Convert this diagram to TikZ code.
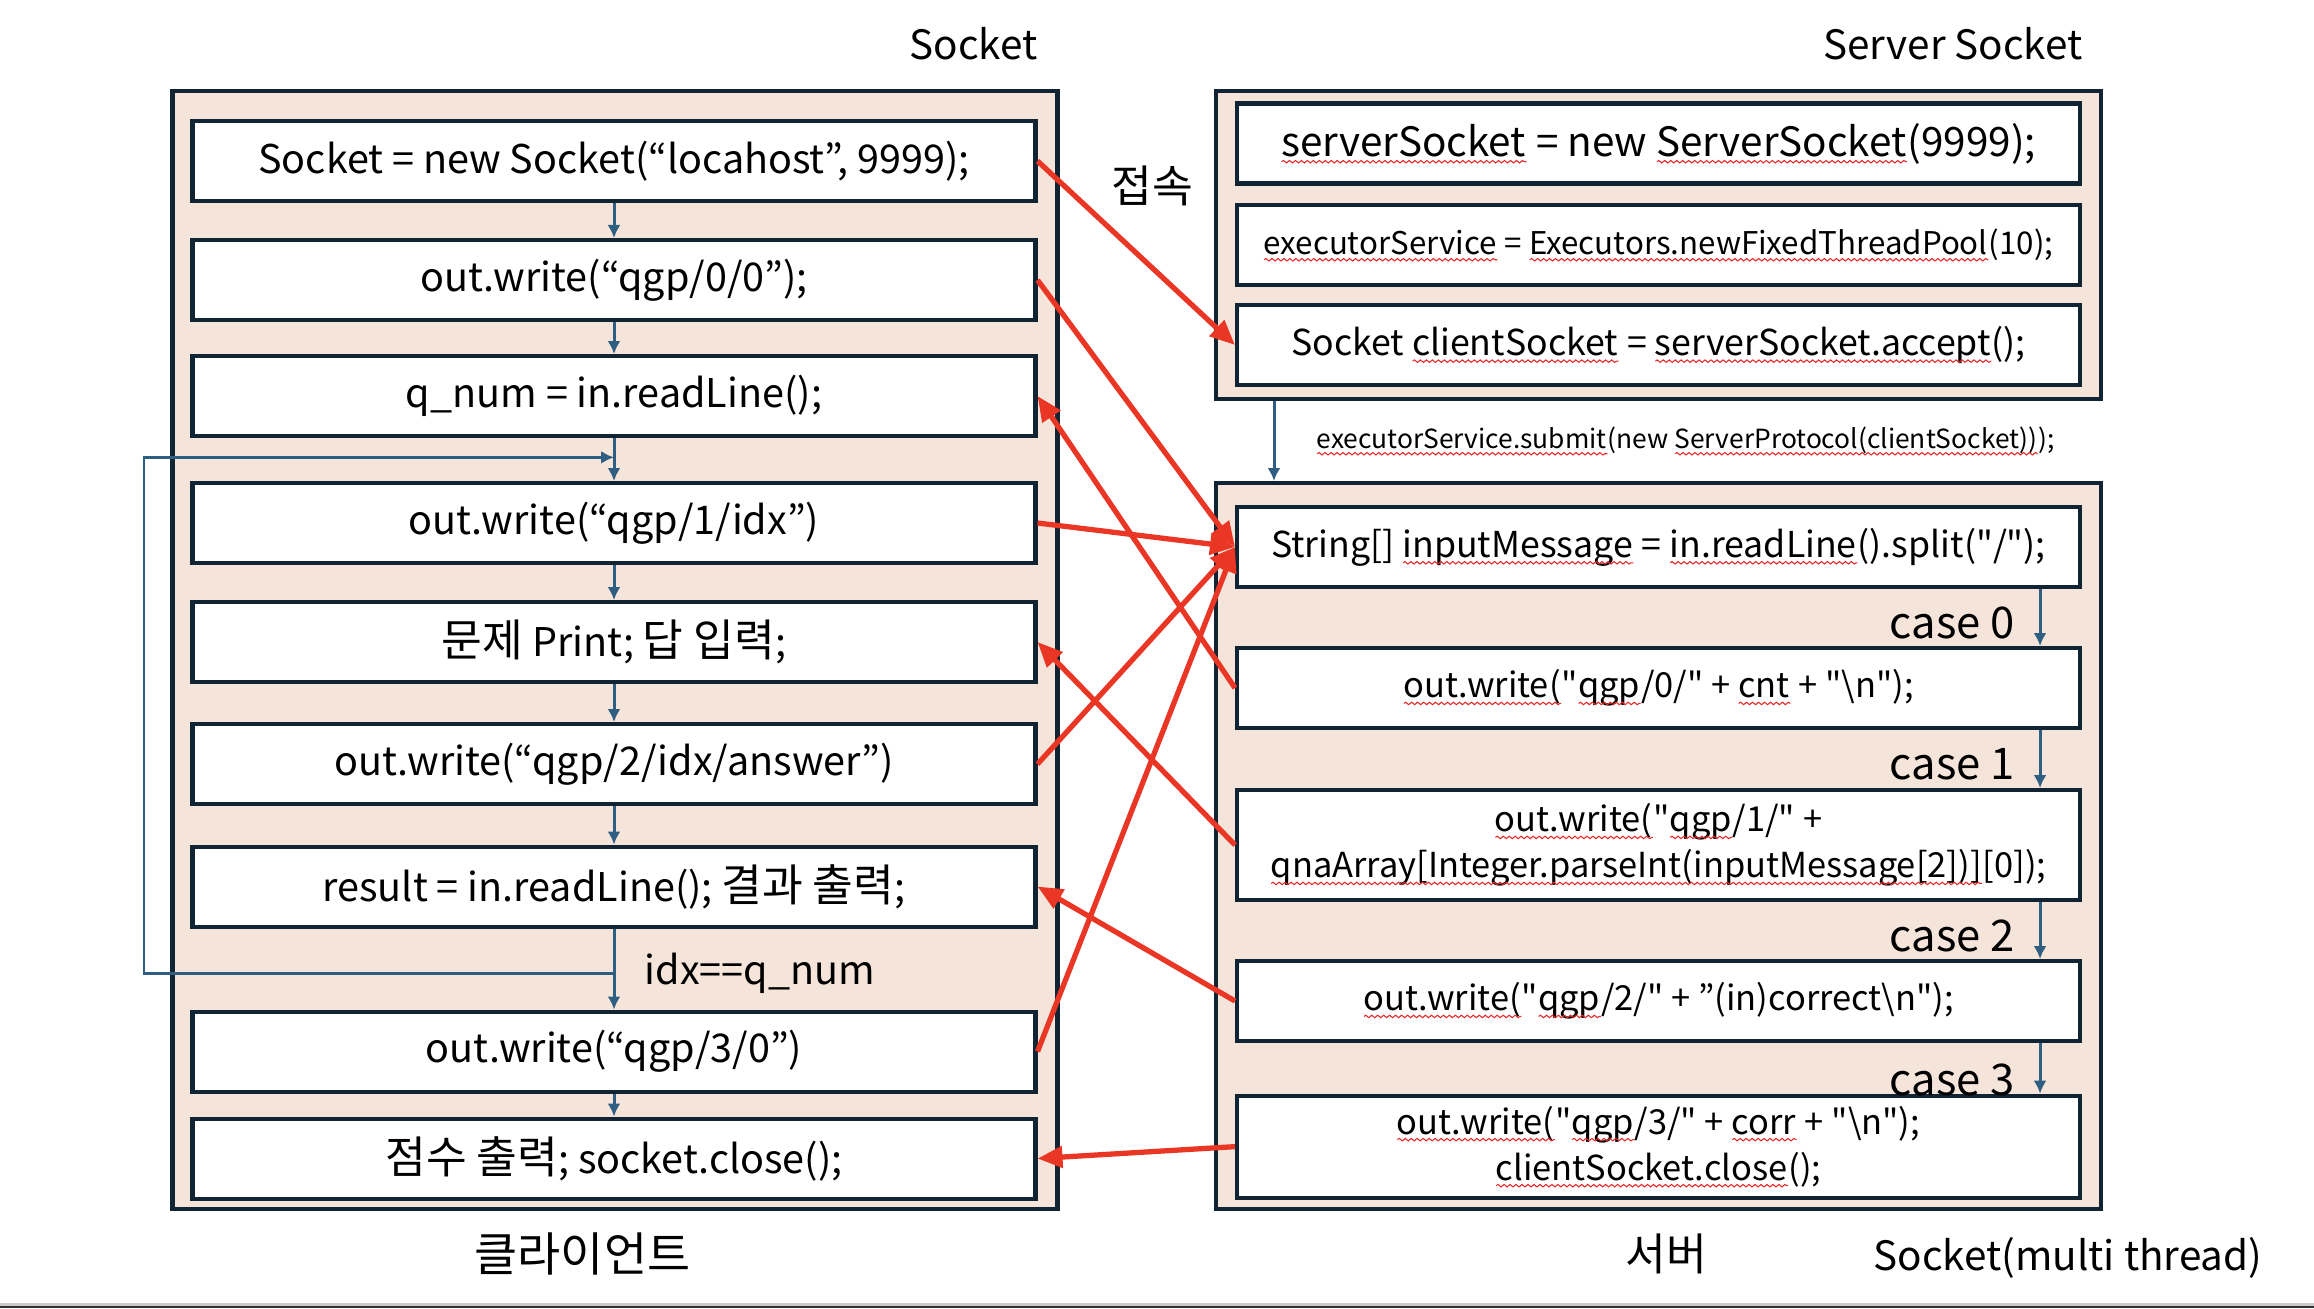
\documentclass[tikz,border=0pt]{standalone}
\usepackage{fontspec}
\setmainfont{Noto Sans CJK KR}[Ligatures=TeXOff]
\newfontfamily\kr{Noto Sans CJK KR}[Scale=1.12]
\usetikzlibrary{arrows.meta,calc,positioning,decorations.pathmorphing}

\definecolor{boxline}{RGB}{16,36,52}
\definecolor{panel}{RGB}{245,228,217}
\definecolor{flowblue}{RGB}{46,94,130}
\definecolor{linkred}{RGB}{234,54,36}
\definecolor{spellred}{RGB}{232,40,40}

\newcommand{\labelfont}{\fontsize{11.5}{14}\selectfont}
\newcommand{\codefont}{\fontsize{11.25}{14}\selectfont}
\newcommand{\casefont}{\fontsize{12.4}{14}\selectfont}
\newcommand{\smallcode}{\fontsize{10.15}{13}\selectfont}
\newcommand{\outcode}{\fontsize{9.8}{13.1}\selectfont}
\newcommand{\midcode}{\fontsize{8.9}{11}\selectfont}
\newcommand{\tinycode}{\fontsize{7.5}{9}\selectfont}
\newsavebox{\sqbox}
\newcommand{\sq}[1]{\sbox{\sqbox}{#1}\rlap{\usebox{\sqbox}}\tikz[baseline=0pt, x=1pt, y=1pt]
	\draw[draw=spellred, fill=none, arrows=-, line width=0.3pt, decorate, decoration={snake, amplitude=0.35pt, segment length=1.7pt}] (0,-1.6) -- (\wd\sqbox,-1.6);}

\begin{document}
\begin{tikzpicture}[
	x=0.1mm, y=-0.1mm,
	panel box/.style={draw=boxline, fill=panel, line width=1.15pt, minimum width=88.5mm, inner sep=0pt},
	code box/.style={draw=boxline, fill=white, line width=1.15pt, minimum width=84.3mm, minimum height=8mm, inner sep=0pt, align=center, font=\codefont},
	flow/.style={draw=flowblue, line width=0.85pt, -{Latex[length=1.3mm,width=1.3mm]}},
	link/.style={draw=linkred, line width=1.5pt, -{Triangle[length=2.5mm,width=2.1mm]}},
	case label/.style={left=2.4mm, inner sep=0pt, font=\casefont}
]
\useasboundingbox (0,0) rectangle (2314,1308);
\fill[white] (0,0) rectangle (2314,1308);
\fill[black!20] (0,1303) rectangle (2314,1306);
\fill[black!80] (0,1306) rectangle (2314,1308);

\node[panel box, minimum height=111.8mm] (client) at (615,650) {};
\node[panel box, minimum height=30.8mm] (accept) at (1658.5,245) {};
\node[panel box, minimum height=72.6mm] (worker) at (1658.5,846) {};

\node[code box] (c1) at (614,161) {Socket = new Socket(“locahost”, 9999);};
\node[code box] (c2) at (614,280) {out.write(“qgp/0/0”);};
\node[code box] (c3) at (614,396) {q\_num = in.readLine();};
\node[code box] (c4) at (614,523) {out.write(“qgp/1/idx”)};
\node[code box] (c5) at (614,642) {{\kr 문제} Print; {\kr 답 입력};};
\node[code box] (c6) at (614,764) {out.write(“qgp/2/idx/answer”)};
\node[code box] (c7) at (614,886.5) {result = in.readLine(); {\kr 결과 출력};};
\node[code box] (c8) at (614,1051.5) {out.write(“qgp/3/0”)};
\node[code box] (c9) at (614,1158.5) {{\kr 점수 출력}; socket.close();};

\node[code box, font=\labelfont] (s1) at (1658.5,143.5) {\sq{serverSocket} = new \sq{ServerSocket}(9999);};
\node[code box, font=\midcode] (s2) at (1658.5,245) {\sq{executorService} = \sq{Executors.newFixedThreadPool}(10);};
\node[code box, font=\smallcode] (s3) at (1658.5,345) {Socket \sq{clientSocket} = \sq{serverSocket.accept}();};

\node[code box, font=\smallcode] (t1) at (1658.5,547) {String[] \sq{inputMessage} = \sq{in.readLine}().split("/");};
\node[code box, font=\outcode] (t2) at (1658.5,688) {\sq{out.write(}"\sq{qgp}/0/" + \sq{cnt} + "\textbackslash n");};
\node[code box, font=\outcode, minimum height=11mm] (t3) at (1658.5,845) {\sq{out.write(}"\sq{qgp}/1/" +\\\sq{qnaArray[Integer.parseInt(inputMessage[2])]}[0]);};
\node[code box, font=\outcode] (t4) at (1658.5,1001) {\sq{out.write(}"\sq{qgp}/2/" + ”(in)correct\textbackslash n");};
\node[code box, font=\outcode, minimum height=10.2mm] (t5) at (1658.5,1146.6) {\sq{out.write(}"\sq{qgp}/3/" + \sq{corr} + "\textbackslash n");\\\sq{clientSocket.close}();};

\node[font=\labelfont] (clientsock) at (973.5,44) {Socket};
\node[font=\labelfont] (serversock) at (1953,44) {Server Socket};
\node[font=\codefont\kr] (connect) at (1152,186) {접속};
\node[font=\fontsize{11.9}{14}\selectfont\kr] (clientname) at (582.5,1254) {클라이언트};
\node[font=\codefont\kr] (servername) at (1666,1254) {서버};
\node[font=\labelfont] (multi) at (2068,1258) {Socket(multi thread)};

\foreach \a/\b in {c1/c2,c2/c3,c3/c4,c4/c5,c5/c6,c6/c7,c7/c8,c8/c9}
	\draw[flow] (\a) -- (\b);
\coordinate (back) at ($(c7.south)!0.55!(c8.north)$);
\coordinate (join) at ($(c3.south)!0.45!(c4.north)$);
\draw[flow] (back) -- ++(-470,0) |- (join);
\node[right=3mm of back, inner sep=0pt, font=\codefont] (cond) {idx==q\_num};

\draw[flow] ([xshift=6mm]accept.south west) -- node[right=4.2mm, inner sep=0pt, font=\tinycode] (submit) {\sq{executorService.submit}(new \sq{ServerProtocol(clientSocket))});} ([xshift=6mm]worker.north west);
\foreach \a/\b/\n/\dy in {t1/t2/0/0.5,t2/t3/1/0.5,t3/t4/2/0.5,t4/t5/3/1.2}
	\draw[flow] ([xshift=-4.2mm]\a.south east) -- node[case label, yshift=-\dy mm] (case\n) {case \n} ([xshift=-4.2mm]\b.north east);

\draw[link] (c1.east) -- (s3.west);
\draw[link] (c2.east) -- (t1.west);
\draw[link] (t2.west) -- (c3.east);
\draw[link] (c4.east) -- (t1.west);
\draw[link] (t3.west) -- (c5.east);
\draw[link] (c6.east) -- (t1.west);
\draw[link] (t4.west) -- (c7.east);
\draw[link] (c8.east) -- (t1.west);
\draw[link] (t5.west) -- (c9.east);
\end{tikzpicture}
\end{document}
